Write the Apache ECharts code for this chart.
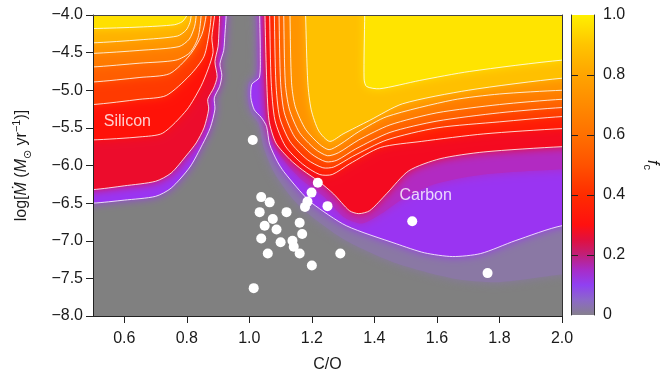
<!DOCTYPE html>
<html>
<head>
<meta charset="utf-8">
<script src="https://cdn.jsdelivr.net/npm/echarts@6/dist/echarts.min.js"></script>
<style>
html, body { margin: 0; padding: 0; background: #fff; }
#chart { width: 661px; height: 378px; }
</style>
</head>
<body>
<div id="chart"></div>
<script>
// axis ranges and tick labels
const xRange = [0.5, 2.0]
const yRange = [-8.0, -4.0]
const xTicks = [0.6, 0.8, 1.0, 1.2, 1.4, 1.6, 1.8, 2.0]
const cbarTicks = [0, 0.2, 0.4, 0.6, 0.8, 1.0]
const cbarInnerTicks = [0.2, 0.4, 0.6, 0.8]

// colour scale of f_c
const cbarStops = [0, 0.05, 0.1, 0.15, 0.2, 0.25, 0.3, 0.4, 0.5, 0.6, 0.7, 0.8, 0.9, 1.0]
const cbarColors = ['#86808e', '#8c68c8', '#9040f2', '#a82cc8', '#c0207a', '#e01040', '#ff1010',
  '#ff2c00', '#ff5200', '#ff7000', '#ff8a00', '#ffa400', '#ffc400', '#fff000']

// contour lines, [C/O, log Mdot]
// silicon side: from left edge up to the top edge
const silicon01 = [[0.5, -6.5], [0.6, -6.46], [0.7, -6.41], [0.75, -6.3], [0.81, -6.02], [0.85, -5.72], [0.875, -5.5],
  [0.89, -5.25], [0.888, -5.1], [0.905, -4.95], [0.912, -4.8], [0.906, -4.65], [0.918, -4.47], [0.922, -4.25], [0.926, -4.0]]
const silicon02 = [[0.5, -6.32], [0.6, -6.27], [0.7, -6.21], [0.75, -6.1], [0.8, -5.86], [0.83, -5.7], [0.855, -5.5],
  [0.87, -5.25], [0.867, -5.12], [0.886, -4.97], [0.897, -4.82], [0.89, -4.62], [0.9, -4.42], [0.903, -4.2], [0.905, -4.0]]
const silicon03 = [[0.5, -5.66], [0.65, -5.62], [0.723, -5.57], [0.8, -5.26], [0.845, -4.95], [0.868, -4.72],
  [0.884, -4.5], [0.88, -4.3], [0.889, -4.0]]
const silicon04 = [[0.5, -5.19], [0.65, -5.12], [0.734, -5.07], [0.81, -4.8], [0.855, -4.55], [0.873, -4.2], [0.878, -4.0]]
const silicon05 = [[0.5, -4.89], [0.65, -4.83], [0.745, -4.78], [0.81, -4.53], [0.848, -4.26], [0.862, -4.0]]
const silicon06 = [[0.5, -4.69], [0.65, -4.64], [0.765, -4.6], [0.81, -4.5], [0.836, -4.3], [0.846, -4.0]]
const silicon07 = [[0.5, -4.51], [0.65, -4.47], [0.775, -4.42], [0.808, -4.32], [0.825, -4.15], [0.83, -4.0]]
const silicon08 = [[0.5, -4.37], [0.65, -4.33], [0.77, -4.28], [0.798, -4.2], [0.81, -4.1], [0.814, -4.0]]
const silicon09 = [[0.5, -4.18], [0.65, -4.16], [0.76, -4.13], [0.785, -4.09], [0.797, -4.03], [0.8, -4.0]]

// carbon side: from the top edge down and out to the right edge
const carbon004 = [[1.02, -4.0], [1.022, -4.8], [0.998, -4.9], [0.995, -5.1], [1.005, -5.3], [1.03, -5.45], [1.045, -5.75],
  [1.08, -6.1], [1.14, -6.45], [1.2, -6.68], [1.31, -7.0], [1.47, -7.3], [1.65, -7.5], [1.8, -7.55], [2.0, -7.45]]
const carbon01 = [[1.033, -4.0], [1.035, -4.5], [1.032, -4.83], [1.008, -4.92], [1.005, -5.1], [1.016, -5.26], [1.038, -5.36],
  [1.055, -5.48], [1.065, -5.72], [1.09, -5.95], [1.11, -6.08], [1.16, -6.33], [1.2, -6.5], [1.31, -6.8], [1.47, -7.04],
  [1.56, -7.16], [1.65, -7.21], [1.74, -7.17], [1.85, -7.0], [2.0, -6.8]]
const carbon015 = [[1.043, -4.0], [1.046, -4.8], [1.055, -5.42], [1.078, -5.72], [1.12, -5.98], [1.17, -6.2], [1.24, -6.42],
  [1.3, -6.68], [1.36, -6.77], [1.43, -6.62], [1.5, -6.42], [1.6, -6.24], [1.75, -6.12], [2.0, -6.05]]
const carbon02 = [[1.05, -4.0], [1.055, -4.8], [1.063, -5.4], [1.085, -5.7], [1.13, -5.92], [1.17, -6.06], [1.225, -6.22],
  [1.27, -6.38], [1.32, -6.6], [1.35, -6.64], [1.385, -6.6], [1.44, -6.37], [1.51, -6.07], [1.61, -5.91], [1.75, -5.82], [2.0, -5.75]]
const carbon03 = [[1.065, -4.0], [1.07, -4.9], [1.082, -5.4], [1.115, -5.74], [1.17, -5.98], [1.225, -6.12], [1.265, -6.12],
  [1.32, -5.98], [1.42, -5.76], [1.55, -5.68], [1.75, -5.58], [2.0, -5.51]]
const carbon04 = [[1.08, -4.0], [1.085, -4.9], [1.097, -5.36], [1.13, -5.68], [1.185, -5.92], [1.235, -6.03], [1.27, -6.02],
  [1.33, -5.88], [1.44, -5.66], [1.6, -5.5], [1.8, -5.42], [2.0, -5.35]]
const carbon05 = [[1.095, -4.0], [1.1, -4.9], [1.112, -5.3], [1.145, -5.62], [1.2, -5.85], [1.245, -5.95], [1.28, -5.93],
  [1.34, -5.78], [1.45, -5.56], [1.6, -5.41], [1.8, -5.3], [2.0, -5.23]]
const carbon06 = [[1.11, -4.0], [1.115, -4.9], [1.128, -5.25], [1.16, -5.56], [1.21, -5.78], [1.25, -5.87], [1.285, -5.83],
  [1.35, -5.66], [1.45, -5.46], [1.6, -5.3], [1.8, -5.19], [2.0, -5.12]]
const carbon07 = [[1.13, -4.0], [1.135, -4.9], [1.147, -5.22], [1.18, -5.52], [1.225, -5.72], [1.255, -5.79], [1.29, -5.72],
  [1.35, -5.55], [1.44, -5.35], [1.65, -5.13], [1.8, -5.05], [2.0, -5.0]]
const carbon08 = [[1.18, -4.0], [1.187, -4.9], [1.198, -5.26], [1.222, -5.54], [1.257, -5.68], [1.3, -5.58], [1.385, -5.4],
  [1.49, -5.18], [1.7, -5.0], [2.0, -4.84]]
const carbon09 = [[1.369, -4.0], [1.367, -4.85], [1.375, -4.95], [1.417, -4.98], [1.545, -4.87], [1.705, -4.75], [2.0, -4.6]]

// observed stars
const obsCO = [1.011, 1.219, 1.199, 1.186, 1.178, 1.25, 1.038, 1.065, 1.033, 1.119, 1.161, 1.075, 1.049, 1.087,
  1.169, 1.1, 1.038, 1.138, 1.142, 1.161, 1.059, 1.2, 1.291, 1.014, 1.521, 1.762]
const obsMdot = [-5.66, -6.23, -6.36, -6.48, -6.55, -6.54, -6.42, -6.49, -6.62, -6.62, -6.76, -6.71, -6.8, -6.85,
  -6.91, -7.02, -6.97, -7.0, -7.08, -7.17, -7.17, -7.33, -7.17, -7.63, -6.74, -7.43]

// region labels
const regionNames = ['Silicon', 'Carbon']
const regionCO = [0.61, 1.564]
const regionMdot = [-5.41, -6.4]

// bands: [contour, side, fill, draw line]
const bands = [
  [carbon004, 'c', '#8a78a4', false],
  [silicon01, 's', '#9a34f2', true], [carbon01, 'c', '#9a34f2', true],
  [carbon015, 'c', '#b22ac2', false],
  [silicon02, 's', '#ec0c2c', true], [carbon02, 'c', '#f40a20', true],
  [silicon03, 's', '#ff1208', true], [carbon03, 'c', '#ff1a06', true],
  [silicon04, 's', '#ff3a00', true], [carbon04, 'c', '#ff3a00', true],
  [silicon05, 's', '#ff5e00', true], [carbon05, 'c', '#ff5e00', true],
  [silicon06, 's', '#ff7a00', true], [carbon06, 'c', '#ff7a00', true],
  [silicon07, 's', '#ff9400', true], [carbon07, 'c', '#ff9400', true],
  [silicon08, 's', '#ffb200', true], [carbon08, 'c', '#ffc000', true],
  [silicon09, 's', '#ffe000', true], [carbon09, 'c', '#ffe400', true]
]

const font = "'Liberation Sans', Arial, 'DejaVu Sans', sans-serif"
const ink = '#1a1a1a'

// run the contour a little past the frame so the clip gives clean edges
function extend(line, side) {
  const a = line[0], b = line[line.length - 1]
  if (side === 's') return [[xRange[0] - 0.1, a[1]], ...line, [b[0], yRange[1] + 0.2]]
  return [[a[0], yRange[1] + 0.2], ...line, [xRange[1] + 0.1, b[1]]]
}

function closeShape(line, side) {
  const pts = extend(line, side)
  const corner = side === 's' ? [xRange[0] - 0.1, yRange[1] + 0.2] : [xRange[1] + 0.1, yRange[1] + 0.2]
  return [...pts, corner]
}

function bandSeries(band, i) {
  const [line, side, color] = band
  return {
    type: 'custom',
    clip: true,
    silent: true,
    z: 2 + i * 0.01,
    data: [[0, 0]],
    renderItem: (params, api) => ({
      type: 'polygon',
      shape: { points: closeShape(line, side).map(p => api.coord(p)), smooth: 0.25 },
      style: { fill: color, shadowBlur: 10, shadowColor: color }
    })
  }
}

function lineSeries(band) {
  const [line, side] = band
  return {
    type: 'custom',
    clip: true,
    silent: true,
    z: 3,
    data: [[0, 0]],
    renderItem: (params, api) => ({
      type: 'polyline',
      shape: { points: extend(line, side).map(p => api.coord(p)), smooth: 0.25 },
      style: { stroke: 'rgba(255,255,255,0.8)', lineWidth: 1, fill: null }
    })
  }
}

const chart = echarts.init(document.getElementById('chart'), null, { renderer: 'canvas' })

const option = {
  animation: false,
  textStyle: { fontFamily: font },
  grid: [
    { left: 93, top: 15, width: 469, height: 301, show: true, backgroundColor: '#808080', borderWidth: 0 },
    { left: 571, top: 15, width: 25, height: 300, show: false }
  ],
  xAxis: [
    {
      type: 'value', gridIndex: 0, min: xRange[0], max: xRange[1], z: 10,
      name: 'C/O', nameLocation: 'middle', nameGap: 41,
      nameTextStyle: { fontSize: 16, color: ink, fontFamily: font },
      axisLine: { lineStyle: { color: '#222', width: 1 } },
      axisTick: { length: 7, lineStyle: { color: '#222' }, customValues: xTicks },
      axisLabel: { customValues: xTicks, fontSize: 16, color: ink, margin: 15, formatter: v => v.toFixed(1) },
      splitLine: { show: false }
    },
    {
      type: 'value', gridIndex: 0, position: 'top', min: xRange[0], max: xRange[1], z: 10,
      axisLine: { lineStyle: { color: '#444', width: 1 } },
      axisTick: { show: false }, axisLabel: { show: false }, splitLine: { show: false }
    },
    { type: 'value', gridIndex: 1, min: 0, max: 1, show: false }
  ],
  yAxis: [
    {
      type: 'value', gridIndex: 0, min: yRange[0], max: yRange[1], interval: 0.5, z: 10,
      name: '{t|log[}{i|Ṁ}{t| (}{i|M}{sub|⊙}{t| yr}{sup|−1}{t|)]}',
      nameLocation: 'middle', nameGap: 60, nameRotate: 90,
      nameTextStyle: {
        color: ink,
        rich: {
          t: { fontSize: 16, fontFamily: font, color: ink, lineHeight: 22 },
          i: { fontSize: 16, fontFamily: font, fontStyle: 'italic', color: ink, lineHeight: 22 },
          sub: { fontSize: 11, fontFamily: font, color: ink, lineHeight: 10, verticalAlign: 'bottom' },
          sup: { fontSize: 11, fontFamily: font, color: ink, lineHeight: 12, verticalAlign: 'top' }
        }
      },
      axisLine: { show: true, lineStyle: { color: '#222', width: 1 } },
      axisTick: { show: true, length: 7, lineStyle: { color: '#222' } },
      axisLabel: {
        fontSize: 16, color: ink, margin: 10,
        formatter: v => (v < 0 ? '\u2212' : '') + Math.abs(v).toFixed(1)
      },
      splitLine: { show: false }
    },
    {
      type: 'value', gridIndex: 0, position: 'right', min: yRange[0], max: yRange[1], z: 10,
      axisLine: { show: true, lineStyle: { color: '#333', width: 1 } },
      axisTick: { show: false }, axisLabel: { show: false }, splitLine: { show: false }
    },
    {
      type: 'value', gridIndex: 1, position: 'left', min: 0, max: 1, z: 10,
      axisLine: { show: true, lineStyle: { color: '#333' } },
      axisTick: { show: true, inside: true, length: 7, lineStyle: { color: '#222' }, customValues: cbarInnerTicks },
      axisLabel: { show: false }, splitLine: { show: false }
    },
    {
      type: 'value', gridIndex: 1, position: 'right', min: 0, max: 1, z: 10,
      name: '{i|f}{sub|c}', nameLocation: 'middle', nameGap: 48, nameRotate: -90,
      nameTextStyle: {
        rich: {
          i: { fontSize: 16, fontFamily: font, fontStyle: 'italic', color: ink, lineHeight: 20 },
          sub: { fontSize: 11, fontFamily: font, color: ink, lineHeight: 10, verticalAlign: 'bottom' }
        }
      },
      axisLine: { show: true, lineStyle: { color: '#333' } },
      axisTick: { show: true, inside: true, length: 7, lineStyle: { color: '#222' }, customValues: cbarInnerTicks },
      axisLabel: {
        customValues: cbarTicks, fontSize: 16, color: ink, margin: 9,
        formatter: v => (v === 0 ? '0' : v.toFixed(1))
      },
      splitLine: { show: false }
    }
  ],
  series: [
    ...bands.map(bandSeries),
    ...bands.filter(b => b[3]).map(lineSeries),
    {
      type: 'scatter',
      z: 5,
      silent: true,
      symbolSize: 10,
      itemStyle: { color: '#ffffff', opacity: 1 },
      data: obsCO.map((c, i) => [c, obsMdot[i]])
    },
    {
      type: 'scatter',
      z: 6,
      silent: true,
      symbolSize: 0,
      data: regionNames.map((n, i) => [regionCO[i], regionMdot[i], n]),
      label: {
        show: true, position: 'inside', color: '#ffffff', fontSize: 16, fontFamily: font,
        formatter: p => p.value[2]
      }
    },
    {
      type: 'custom',
      xAxisIndex: 2,
      yAxisIndex: 2,
      silent: true,
      z: 2,
      data: [[0, 0]],
      renderItem: (params, api) => {
        const tl = api.coord([0, 1])
        const br = api.coord([1, 0])
        return {
          type: 'rect',
          shape: { x: tl[0], y: tl[1], width: br[0] - tl[0], height: br[1] - tl[1] },
          style: {
            fill: new echarts.graphic.LinearGradient(0, 1, 0, 0,
              cbarStops.map((s, i) => ({ offset: s, color: cbarColors[i] })))
          }
        }
      }
    }
  ]
}

chart.setOption(option)
</script>
</body>
</html>
